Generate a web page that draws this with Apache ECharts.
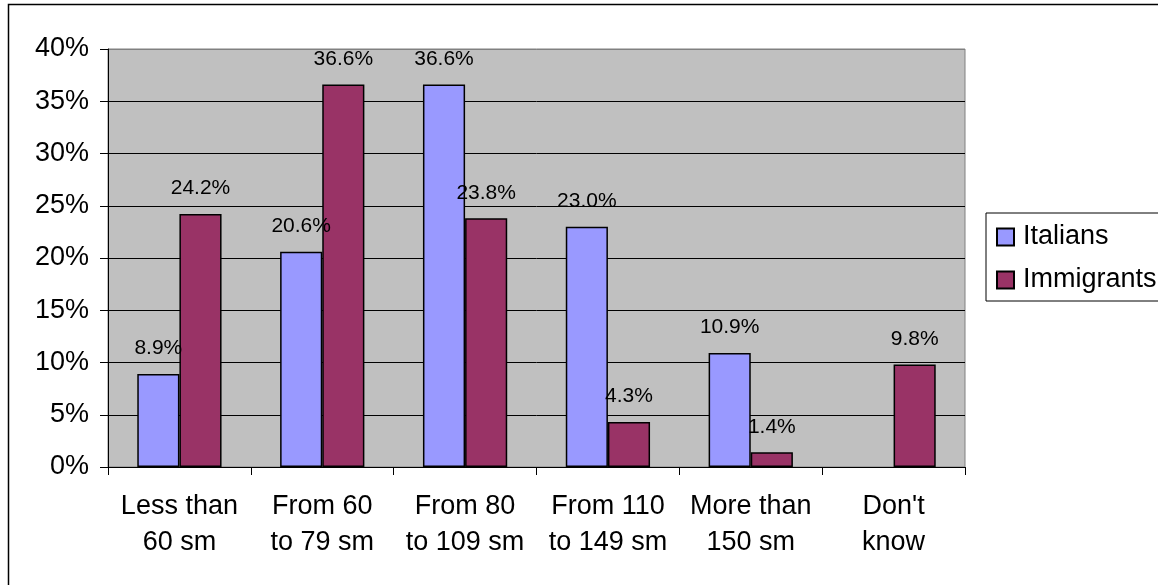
<!DOCTYPE html>
<html>
<head>
<meta charset="utf-8">
<script src="https://cdn.jsdelivr.net/npm/echarts@6/dist/echarts.min.js"></script>
<style>
  html, body { margin: 0; padding: 0; background: #ffffff; }
  #chart { width: 1158px; height: 585px; }
</style>
</head>
<body>
<div id="chart"></div>
<script>
// Dwelling size categories (square metres) and share of respondents, in percent
const categories = [
  'Less than\n60 sm',
  'From 60\nto 79 sm',
  'From 80\nto 109 sm',
  'From 110\nto 149 sm',
  'More than\n150 sm',
  "Don't\nknow"
];
const italians   = [8.9, 20.6, 36.6, 23.0, 10.9, null];
const immigrants = [24.2, 36.6, 23.8, 4.3, 1.4, 9.8];
const seriesNames = ['Italians', 'Immigrants'];

const FONT = "'Liberation Sans', Arial, sans-serif";

const chart = echarts.init(document.getElementById('chart'), null, { renderer: 'canvas' });

const valueLabel = {
  show: true,
  position: 'top',
  distance: 15,
  fontFamily: FONT,
  fontSize: 21,
  color: '#000000',
  formatter: p => (p.value == null ? '' : p.value.toFixed(1) + '%')
};

chart.setOption({
  backgroundColor: '#ffffff',
  animation: false,
  textStyle: { fontFamily: FONT },
  graphic: [{
    type: 'rect',
    shape: { x: 8.5, y: 4.5, width: 1300, height: 700 },
    style: { fill: null, stroke: '#000000', lineWidth: 1.5 },
    z: 100,
    silent: true
  }],
  grid: {
    left: 108, top: 49, right: 193, bottom: 118,
    show: true,
    backgroundColor: '#C0C0C0',
    borderColor: '#808080',
    borderWidth: 1
  },
  legend: {
    orient: 'vertical',
    left: 986, top: 213,
    data: seriesNames,
    icon: 'rect',
    itemWidth: 17,
    itemHeight: 17,
    itemGap: 13,
    padding: [9, 10, 6, 10],
    borderColor: '#000000',
    borderWidth: 1,
    backgroundColor: '#ffffff',
    textStyle: {
      fontFamily: FONT,
      fontSize: 27,
      lineHeight: 30,
      color: '#000000',
      padding: [0, 0, 0, 4]
    }
  },
  xAxis: {
    type: 'category',
    data: categories,
    axisLine: { show: true, lineStyle: { color: '#000000', width: 1 } },
    axisTick: { show: true, length: 8, lineStyle: { color: '#000000' } },
    axisLabel: {
      interval: 0,
      margin: 22,
      fontFamily: FONT,
      fontSize: 27,
      lineHeight: 36,
      color: '#000000',
      align: 'center'
    },
    splitLine: { show: false }
  },
  yAxis: {
    type: 'value',
    min: 0, max: 40, interval: 5,
    axisLine: { show: true, lineStyle: { color: '#000000', width: 1 } },
    axisTick: { show: true, length: 8, lineStyle: { color: '#000000' } },
    axisLabel: {
      formatter: '{value}%',
      margin: 19,
      fontFamily: FONT,
      fontSize: 27,
      color: '#000000'
    },
    splitLine: {
      show: true,
      lineStyle: {
        color: ['#000000', '#000000', '#000000', '#000000', '#000000',
                '#000000', '#000000', '#000000', '#808080'],
        width: 1
      }
    }
  },
  series: [
    {
      name: seriesNames[0],
      type: 'bar',
      data: italians,
      barGap: '0%',
      barCategoryGap: '41%',
      itemStyle: { color: '#9999FF', borderColor: '#000000', borderWidth: 1.5 },
      label: valueLabel
    },
    {
      name: seriesNames[1],
      type: 'bar',
      data: immigrants,
      barGap: '0%',
      barCategoryGap: '41%',
      itemStyle: { color: '#993366', borderColor: '#000000', borderWidth: 1.5 },
      label: valueLabel
    }
  ]
});
</script>
</body>
</html>
